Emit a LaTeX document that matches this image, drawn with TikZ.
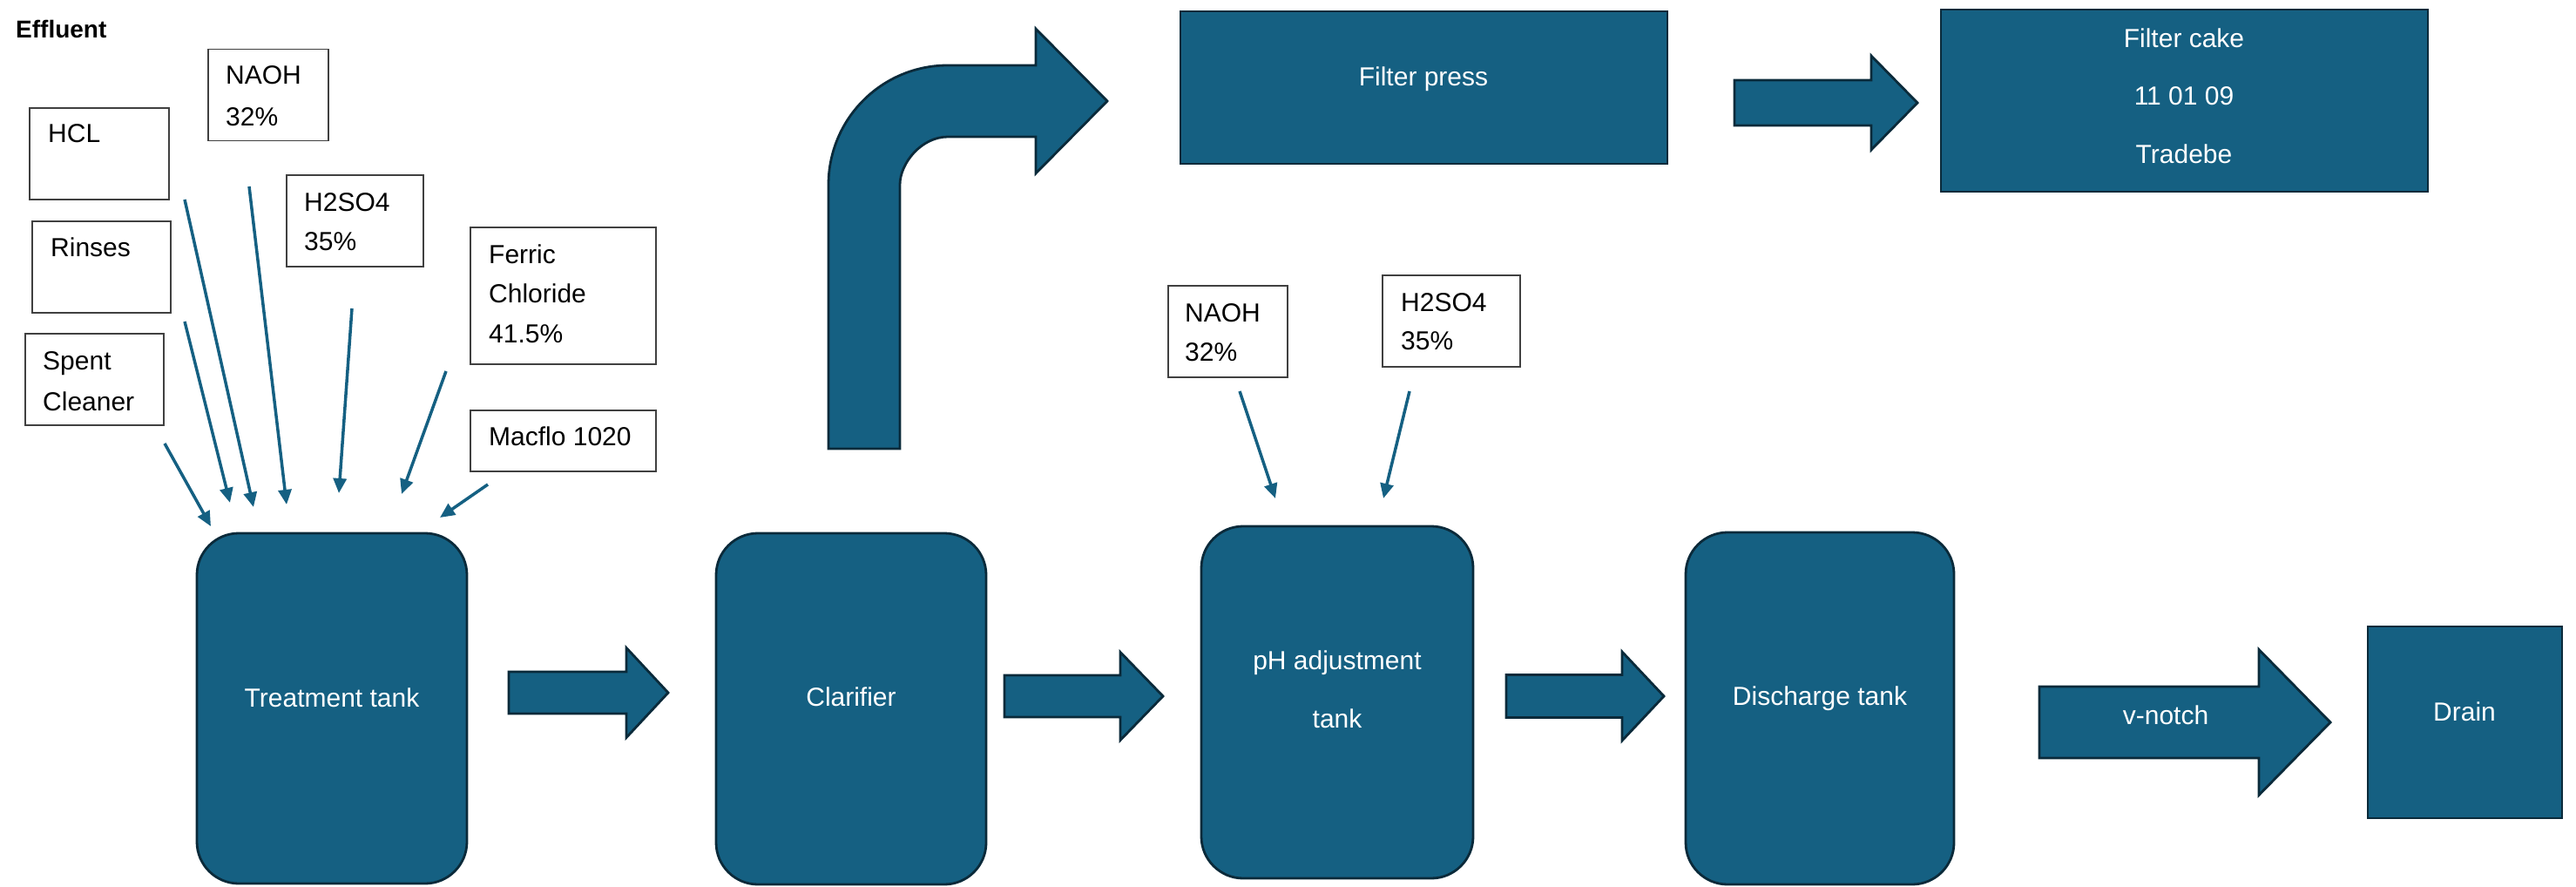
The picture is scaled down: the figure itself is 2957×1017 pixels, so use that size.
\documentclass[tikz,border=0pt]{standalone}
\usepackage{fontspec}
\setmainfont{Liberation Sans}
\usetikzlibrary{arrows.meta}

\definecolor{flowblue}{HTML}{156082}
\definecolor{flowedge}{HTML}{0A2A3A}
\definecolor{boxedge}{HTML}{404040}

% straight block arrow: tail x, head base x, tip x, centre y, shaft half height, head half height
\newcommand\flowarrow[6]{%
  \draw[barrow] (#1,#4-#5) -- (#2,#4-#5) -- (#2,#4-#6) -- (#3,#4)
    -- (#2,#4+#6) -- (#2,#4+#5) -- (#1,#4+#5) -- cycle;}

\begin{document}
\begin{tikzpicture}[x=1pt,y=-1pt,
  tank/.style={draw=flowedge, fill=flowblue, line width=2.8pt, rounded corners=48pt, inner sep=0pt},
  unit/.style={draw=flowedge, fill=flowblue, line width=2.8pt, inner sep=0pt},
  feed/.style={draw=boxedge, line width=1.8pt, fill=white, inner sep=0pt},
  wtxt/.style={text=white, font=\fontsize{30}{36}\selectfont, anchor=base, inner sep=0pt},
  btxt/.style={text=black, font=\fontsize{30}{36}\selectfont, anchor=base west, inner sep=0pt},
  pipe/.style={draw=flowblue, line width=3.5pt, -{Triangle[length=17pt,width=15pt]}},
  barrow/.style={draw=flowedge, fill=flowblue, line width=2.8pt, line join=miter}
]
\useasboundingbox (0,0) rectangle (2957,1017);

% heading
\node[font=\bfseries\fontsize{28}{34}\selectfont, anchor=base west, inner sep=0pt] (title) at (18,43) {Effluent};

% chemical feeds into the treatment tank
\node[feed, minimum width=138pt, minimum height=105pt] (naoh)   at (308,109)   {};
\node[feed, minimum width=160pt, minimum height=105pt] (hcl)    at (114,176.5) {};
\node[feed, minimum width=159pt, minimum height=105pt] (rinses) at (116.5,306.5) {};
\node[feed, minimum width=159pt, minimum height=105pt] (spent)  at (108.5,435.5) {};
\node[feed, minimum width=157pt, minimum height=105pt] (hso)    at (407.5,253.5) {};
\node[feed, minimum width=213pt, minimum height=157pt] (ferric) at (646.5,339.5) {};
\node[feed, minimum width=213pt, minimum height=70pt]  (macflo) at (646.5,506)   {};

\node[btxt] (naohA) at (259,96.5) {NAOH};
\node[btxt] (naohB) at (259,144)  {32\%};
\node[btxt] (hclA)  at (55,163.5) {HCL};
\node[btxt] (rinA)  at (58,294.5) {Rinses};
\node[btxt] (spA)   at (49,424.5) {Spent};
\node[btxt] (spB)   at (49,471.5) {Cleaner};
\node[btxt] (hsoA)  at (349,242.5) {H2SO4};
\node[btxt] (hsoB)  at (349,287.5) {35\%};
\node[btxt] (feA)   at (561,302.5) {Ferric};
\node[btxt] (feB)   at (561,347.5) {Chloride};
\node[btxt] (feC)   at (561,393.5) {41.5\%};
\node[btxt] (macA)  at (561,511.5) {Macflo 1020};

% chemical feeds into the pH adjustment tank
\node[feed, minimum width=137pt, minimum height=105pt] (naohb) at (1409.5,380.5) {};
\node[feed, minimum width=158pt, minimum height=105pt] (hsob)  at (1666,368.5)   {};
\node[btxt] (naohbA) at (1360,369.5) {NAOH};
\node[btxt] (naohbB) at (1360,414.5) {32\%};
\node[btxt] (hsobA)  at (1608,357.5) {H2SO4};
\node[btxt] (hsobB)  at (1608,401.5) {35\%};

% dosing lines
\coordinate (d1s) at (189,509);  \coordinate (d1e) at (242,604);
\coordinate (d2s) at (212,369);  \coordinate (d2e) at (264,577);
\coordinate (d3s) at (212,229);  \coordinate (d3e) at (291,582);
\coordinate (d4s) at (286,214);  \coordinate (d4e) at (329,579);
\coordinate (d5s) at (404,354);  \coordinate (d5e) at (389,566);
\coordinate (d6s) at (512,426);  \coordinate (d6e) at (461,567);
\coordinate (d7s) at (560,556);  \coordinate (d7e) at (505,594);
\coordinate (d8s) at (1423,449); \coordinate (d8e) at (1464,572);
\coordinate (d9s) at (1618,449); \coordinate (d9e) at (1588,572);
\foreach \i in {1,...,9} {\draw[pipe] (d\i s) -- (d\i e);}

% process units
\node[tank, minimum width=310pt, minimum height=402pt] (treat) at (381,813)    {};
\node[tank, minimum width=310pt, minimum height=403pt] (clar)  at (977,813.5)  {};
\node[tank, minimum width=312pt, minimum height=404pt] (ph)    at (1535,806)   {};
\node[tank, minimum width=308pt, minimum height=404pt] (disch) at (2089,813)   {};
\node[unit, minimum width=223pt, minimum height=220pt] (drain) at (2829.5,829) {};
\node[unit, minimum width=559pt, minimum height=175pt] (fpress) at (1634.5,100.5) {};
\node[unit, minimum width=559pt, minimum height=209pt] (fcake)  at (2507.5,115.5) {};

% flow arrows
\flowarrow{584}{719}{767}{795}{24}{51.5}
\flowarrow{1153}{1286}{1335}{799}{24}{50.5}
\flowarrow{1729}{1862}{1910}{799}{24.5}{51}
\flowarrow{1991}{2148}{2201}{118}{26}{54}
\flowarrow{2341}{2593}{2675}{829}{41}{83.5}

% sludge line from the clarifier up to the filter press (quarter-circle bends)
\draw[barrow] (951,515) -- (951,212)
  .. controls (951,136.3) and (1012.3,75) .. (1088,75)
  -- (1189,75) -- (1189,33) -- (1271,116) -- (1189,199) -- (1189,157) -- (1088,157)
  .. controls (1057.6,157) and (1033,187.4) .. (1033,212)
  -- (1033,515) -- cycle;

% unit labels
\node[wtxt] (treatL) at (381,811)  {Treatment tank};
\node[wtxt] (clarL)  at (977,810)  {Clarifier};
\node[wtxt] (phL1)   at (1535,768) {pH adjustment};
\node[wtxt] (phL2)   at (1535,835) {tank};
\node[wtxt] (dischL) at (2089,809) {Discharge tank};
\node[wtxt] (vnL)    at (2486,831) {v-notch};
\node[wtxt] (drainL) at (2829,827) {Drain};
\node[wtxt] (fpL)    at (1634,98)  {Filter press};
\node[wtxt] (fcL1)   at (2507,54)  {Filter cake};
\node[wtxt] (fcL2)   at (2507,120) {11 01 09};
\node[wtxt] (fcL3)   at (2507,187) {Tradebe};
\end{tikzpicture}
\end{document}
